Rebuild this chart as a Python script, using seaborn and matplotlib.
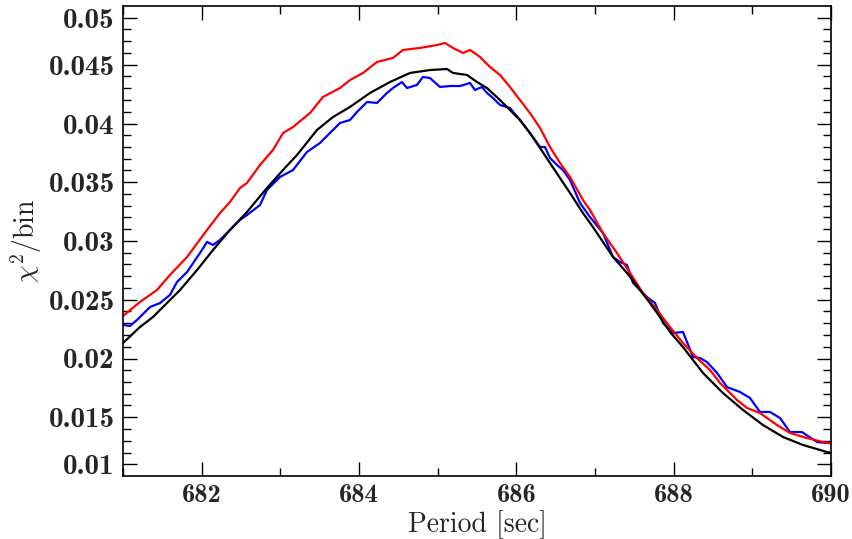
import numpy as np
import pandas as pd
import matplotlib
matplotlib.use("Agg")
import matplotlib.pyplot as plt
import seaborn as sns

# ---- data ----
black_x = [681.00, 681.216, 681.381, 681.508, 681.725, 681.941, 682.144, 682.360, 682.576, 682.830,
           683.034, 683.212, 683.466, 683.669, 683.886, 684.140, 684.394, 684.648, 684.902, 685.118,
           685.195, 685.373, 685.500, 685.627, 685.792, 685.919, 686.046, 686.173, 686.301, 686.428,
           686.555, 686.682, 686.847, 686.974, 687.101, 687.229, 687.407, 687.572, 687.699, 687.826,
           687.953, 688.118, 688.246, 688.373, 688.462, 688.627, 688.881, 689.135, 689.390, 689.644,
           689.949, 690.0]
black_y = [0.02132, 0.02268, 0.02353, 0.02438, 0.02583, 0.02753, 0.02923, 0.03094, 0.03247, 0.03451,
           0.03604, 0.03732, 0.03945, 0.04055, 0.04141, 0.04260, 0.04353, 0.04430, 0.04455, 0.04464,
           0.04430, 0.04413, 0.04353, 0.04302, 0.04200, 0.04115, 0.04030, 0.03919, 0.03792, 0.03664,
           0.03536, 0.03409, 0.03238, 0.03119, 0.02992, 0.02864, 0.02728, 0.02583, 0.02472, 0.02353,
           0.02226, 0.02098, 0.01987, 0.01877, 0.01817, 0.01706, 0.01562, 0.01434, 0.01332, 0.01264,
           0.01204, 0.01196]

red_x = [681.00, 681.216, 681.432, 681.597, 681.814, 682.068, 682.233, 682.360, 682.487, 682.576,
         682.741, 682.907, 683.034, 683.161, 683.377, 683.542, 683.758, 683.886, 684.051, 684.229,
         684.432, 684.559, 684.775, 684.991, 685.093, 685.195, 685.322, 685.411, 685.538, 685.665,
         685.792, 685.919, 686.046, 686.173, 686.301, 686.428, 686.555, 686.682, 686.847, 686.936,
         687.101, 687.279, 687.445, 687.610, 687.788, 687.953, 688.118, 688.296, 688.462, 688.589,
         688.805, 688.932, 689.097, 689.313, 689.479, 689.695, 689.949, 690.0]
red_y = [0.02362, 0.02481, 0.02583, 0.02711, 0.02864, 0.03094, 0.03238, 0.03332, 0.03451, 0.03494,
         0.03647, 0.03775, 0.03919, 0.03970, 0.04089, 0.04226, 0.04302, 0.04370, 0.04430, 0.04524,
         0.04558, 0.04626, 0.04643, 0.04668, 0.04685, 0.04643, 0.04600, 0.04626, 0.04566, 0.04481,
         0.04413, 0.04311, 0.04200, 0.04089, 0.03962, 0.03800, 0.03664, 0.03545, 0.03349, 0.03264,
         0.03068, 0.02898, 0.02728, 0.02557, 0.02413, 0.02268, 0.02132, 0.02004, 0.01902, 0.01792,
         0.01647, 0.01579, 0.01536, 0.01434, 0.01366, 0.01323, 0.01281, 0.01281]

blue_x = [681.00, 681.089, 681.178, 681.343, 681.470, 681.597, 681.686, 681.814, 681.979, 682.068,
          682.144, 682.233, 682.360, 682.487, 682.576, 682.741, 682.830, 682.996, 683.161, 683.339,
          683.504, 683.631, 683.758, 683.886, 683.974, 684.102, 684.229, 684.356, 684.432, 684.546,
          684.610, 684.737, 684.813, 684.902, 685.029, 685.157, 685.284, 685.411, 685.474, 685.563,
          685.627, 685.703, 685.792, 685.919, 686.046, 686.173, 686.301, 686.364, 686.428, 686.517,
          686.593, 686.682, 686.809, 686.936, 687.101, 687.229, 687.318, 687.407, 687.483, 687.661,
          687.763, 687.864, 687.991, 688.118, 688.246, 688.335, 688.424, 688.551, 688.678, 688.843,
          688.970, 689.097, 689.224, 689.351, 689.479, 689.631, 689.822, 689.949, 690.0]
blue_y = [0.02285, 0.02277, 0.02328, 0.02438, 0.02472, 0.02541, 0.02651, 0.02736, 0.02898, 0.02992,
          0.02966, 0.03009, 0.03094, 0.03179, 0.03221, 0.03306, 0.03434, 0.03545, 0.03604, 0.03758,
          0.03834, 0.03919, 0.04004, 0.04030, 0.04098, 0.04183, 0.04175, 0.04260, 0.04302, 0.04353,
          0.04302, 0.04328, 0.04396, 0.04387, 0.04311, 0.04319, 0.04319, 0.04345, 0.04285, 0.04311,
          0.04260, 0.04217, 0.04158, 0.04132, 0.04030, 0.03919, 0.03800, 0.03800, 0.03706, 0.03647,
          0.03604, 0.03519, 0.03324, 0.03204, 0.03068, 0.02864, 0.02821, 0.02796, 0.02643, 0.02523,
          0.02472, 0.02302, 0.02217, 0.02226, 0.02013, 0.02004, 0.01970, 0.01877, 0.01757, 0.01715,
          0.01664, 0.01545, 0.01545, 0.01494, 0.01374, 0.01374, 0.01289, 0.01281, 0.01281]

x_ticks = [682, 684, 686, 688, 690]
y_tick_pos = [0.011, 0.015, 0.020, 0.025, 0.030, 0.035, 0.040, 0.045, 0.049]
y_tick_labels = ["0.01", "0.015", "0.02", "0.025", "0.03", "0.035", "0.04", "0.045", "0.05"]

# ---- styling ----
sns.set_style("ticks")
plt.rcParams["font.family"] = ["cmr10", "DejaVu Serif"]
plt.rcParams["mathtext.fontset"] = "cm"
plt.rcParams["axes.formatter.use_mathtext"] = True

fig = plt.figure(figsize=(8.53, 5.39), dpi=100)
ax = fig.add_axes([123 / 853, 1 - 476 / 539, (831 - 123) / 853, (476 - 6) / 539])

sns.lineplot(x=blue_x, y=blue_y, ax=ax, color="#0000ff", lw=1.6, sort=False, estimator=None)
sns.lineplot(x=red_x, y=red_y, ax=ax, color="#ff0000", lw=1.6, sort=False, estimator=None)
sns.lineplot(x=black_x, y=black_y, ax=ax, color="black", lw=1.6, sort=False, estimator=None)

ax.set_xlim(681, 690)
ax.set_ylim(0.010, 0.050)

ax.set_xticks(x_ticks)
ax.set_xticklabels([str(t) for t in x_ticks])
ax.set_xticks(np.arange(681, 690.5, 1.0), minor=True)
ax.set_yticks(y_tick_pos)
ax.set_yticklabels(y_tick_labels)
ax.set_yticks(np.arange(0.011, 0.0495, 0.001), minor=True)

for lab in ax.get_xticklabels():
    lab.set_fontfamily("cmb10")
    lab.set_fontsize(19)
for lab in ax.get_yticklabels():
    lab.set_fontfamily("cmb10")
    lab.set_fontsize(21)

ax.tick_params(which="both", direction="in", top=True, right=True, color="black")
ax.tick_params(which="major", length=10, width=1.0, pad=6)
ax.tick_params(which="minor", length=6, width=1.0)

for s in ax.spines.values():
    s.set_linewidth(1.2)
    s.set_color("black")

ax.set_xlabel("Period [sec]", fontsize=20, labelpad=2)
ax.set_ylabel(r"$\chi^2$/bin", fontsize=20, labelpad=3)

fig.savefig("out.png", dpi=100)
